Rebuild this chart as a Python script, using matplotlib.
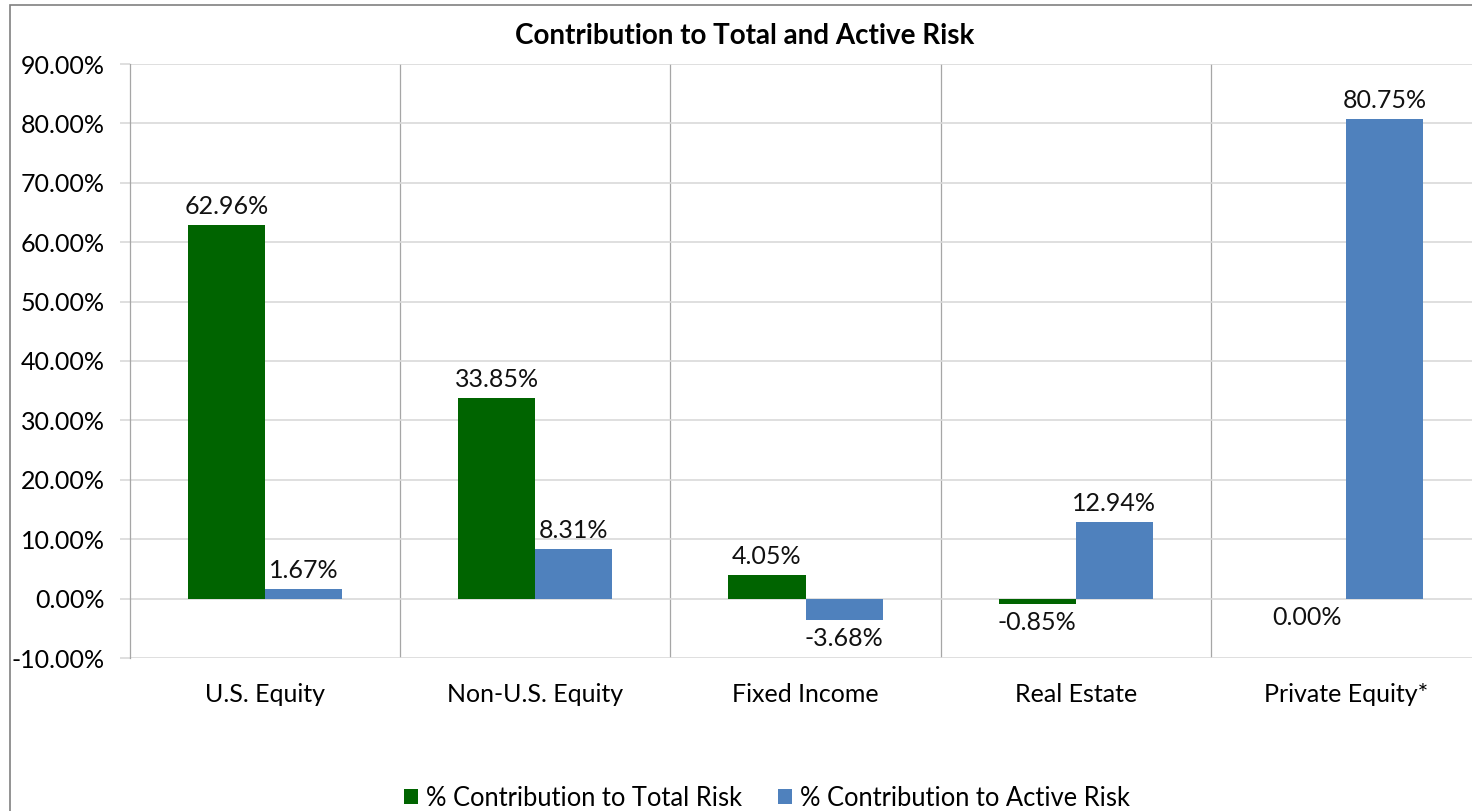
import matplotlib
matplotlib.use("Agg")
import matplotlib.pyplot as plt
from matplotlib.patches import Rectangle
import numpy as np

categories = ["U.S. Equity", "Non-U.S. Equity", "Fixed Income", "Real Estate", "Private Equity*"]
total_risk = [62.96, 33.85, 4.05, -0.85, 0.00]
active_risk = [1.67, 8.31, -3.68, 12.94, 80.75]
series_names = ["% Contribution to Total Risk", "% Contribution to Active Risk"]
yticks = [-10, 0, 10, 20, 30, 40, 50, 60, 70, 80, 90]

plt.rcParams['font.family'] = ['Lato', 'DejaVu Sans']

W, H = 1472, 811
fig = plt.figure(figsize=(W / 100, H / 100), dpi=100)

# outer chart border
fig.patches.append(Rectangle((10 / W, -0.1), 2.0, (H - 5) / H + 0.1, transform=fig.transFigure,
                             fill=False, edgecolor="#808080", linewidth=1.2))

left, right = 130, 1481
top, bottom = 64, 658
ax = fig.add_axes([left / W, 1 - bottom / H, (right - left) / W, (bottom - top) / H])

green = "#006400"
blue = "#4F81BD"
x = np.arange(len(categories))
bw = 0.285
ax.bar(x - bw / 2, total_risk, bw, color=green, label=series_names[0], zorder=3)
ax.bar(x + bw / 2, active_risk, bw, color=blue, label=series_names[1], zorder=3)

fs = 18
for xi, v in zip(x - bw / 2, total_risk):
    ax.annotate(f"{v:.2f}%", (xi, v), xytext=(0, 5 if v > 0 else -5), textcoords="offset points",
                ha="center", va="bottom" if v > 0 else "top", fontsize=fs, color="#111111", zorder=4)
for xi, v in zip(x + bw / 2, active_risk):
    ax.annotate(f"{v:.2f}%", (xi, v), xytext=(0, 5 if v > 0 else -5), textcoords="offset points",
                ha="center", va="bottom" if v > 0 else "top", fontsize=fs, color="#111111", zorder=4)

ax.set_xlim(-0.5, len(categories) - 0.5)
ax.set_ylim(-10, 90)
ax.set_yticks(yticks)
ax.set_yticklabels([f"{t:.2f}%" for t in yticks], fontsize=fs)
ax.set_xticks(x)
ax.set_xticklabels(categories, fontsize=fs)
ax.tick_params(axis="x", length=0, pad=18)
ax.tick_params(axis="y", length=7, color="#d9d9d9", width=1.2, pad=11)
ax.yaxis.grid(True, color="#d9d9d9", linewidth=1.2, zorder=0)
for b in np.arange(0.5, len(categories) - 0.5, 1.0):
    ax.axvline(b, color="#a6a6a6", linewidth=0.9, zorder=1)
for s in ["top", "right", "bottom"]:
    ax.spines[s].set_visible(False)
ax.spines["left"].set_color("#a6a6a6")
ax.spines["left"].set_linewidth(0.9)

fig.text(745 / W, 1 - 36 / H, "Contribution to Total and Active Risk", ha="center", va="center",
         fontsize=20, fontweight="bold")

fig.legend(loc="center", bbox_to_anchor=(767 / W, 1 - 798 / H), ncol=2, frameon=False,
           fontsize=18.4, handlelength=0.55, handleheight=0.55, handletextpad=0.3, columnspacing=1.4)

fig.savefig("out.png", dpi=100)
